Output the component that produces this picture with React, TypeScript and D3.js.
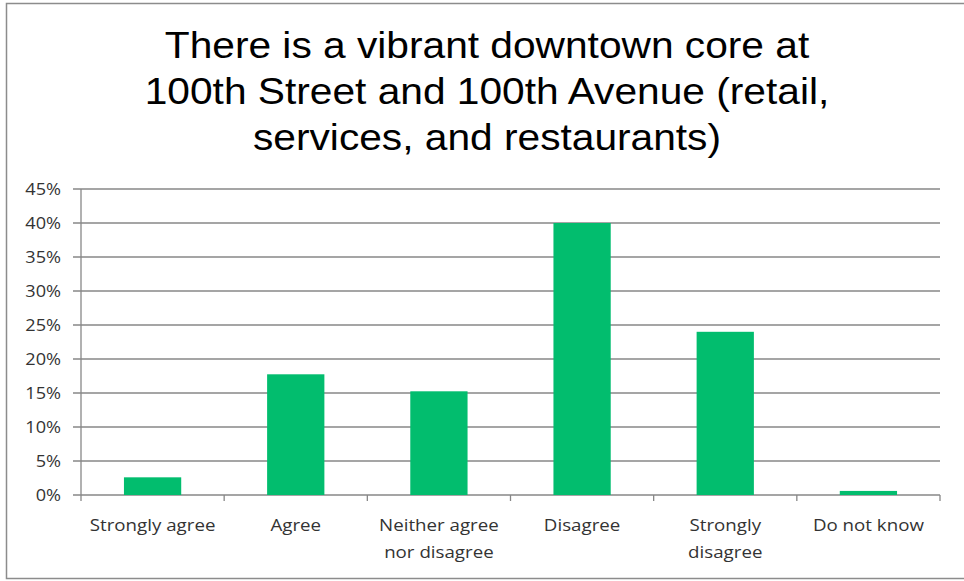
import React from "react";
import * as d3 from "d3";

const titleLines = [
  "There is a vibrant downtown core at",
  "100th Street and 100th Avenue (retail,",
  "services, and restaurants)",
];
const categories = [
  ["Strongly agree"],
  ["Agree"],
  ["Neither agree", "nor disagree"],
  ["Disagree"],
  ["Strongly", "disagree"],
  ["Do not know"],
];
const values = [0.026, 0.1775, 0.1525, 0.4, 0.24, 0.006];
const yTicks = [0, 0.05, 0.1, 0.15, 0.2, 0.25, 0.3, 0.35, 0.4, 0.45];

const W = 964;
const H = 581;
const left = 81;
const right = 940;
const top = 189;
const bottom = 495;

export default function App() {
  const keys = categories.map((c) => c.join(" "));
  const x = d3.scaleBand<string>().domain(keys).range([left, right]).paddingInner(0.6).paddingOuter(0.3);
  const xb = d3.scaleBand<string>().domain(keys).range([left, right]).padding(0);
  const y = d3.scaleLinear().domain([0, 0.45]).range([bottom, top]);
  const fmt = d3.format(".0%");
  const grid = "#878787";
  const labelFont = "'Open Sans', 'Noto Sans', sans-serif";
  const sx = 1.17;
  return (
    <svg
      width={W}
      height={H}
      style={{ position: "absolute", left: 0, top: 0, background: "#fff" }}
    >
      <rect x={6.5} y={3.5} width={W + 5} height={575} fill="#fff" stroke="#8c8c8c" strokeWidth={1.5} />
      {titleLines.map((t, i) => (
        <g key={i} transform={`translate(487,${58 + i * 46}) scale(1.1,1)`}>
          <text
            x={0}
            y={0}
            textAnchor="middle"
            fontFamily="'Liberation Sans', Arial, sans-serif"
            fontSize={37}
            fill="#000"
          >
            {t}
          </text>
        </g>
      ))}
      {yTicks.map((t) => (
        <g key={t}>
          <line x1={73} x2={right} y1={y(t)} y2={y(t)} stroke={grid} strokeWidth={1.3} />
          <g transform={`translate(61,${y(t)}) scale(${sx},1)`}>
            <text
              x={0}
              y={0}
              dy="0.36em"
              textAnchor="end"
              fontFamily={labelFont}
              fontSize={15.5}
              fill="#333"
            >
              {fmt(t)}
            </text>
          </g>
        </g>
      ))}
      <line x1={left} x2={left} y1={top} y2={bottom} stroke={grid} strokeWidth={1.3} />
      {keys.map((k, i) => (
        <rect key={k} x={x(k)} y={y(values[i])} width={x.bandwidth()} height={bottom - y(values[i])} fill="#02BD6E" />
      ))}
      {[...keys.map((k) => xb(k) as number), right].map((p, i) => (
        <line key={i} x1={p} x2={p} y1={bottom} y2={bottom + 6} stroke={grid} strokeWidth={1.3} />
      ))}
      {categories.map((c, i) => (
        <g key={i} transform={`translate(${(xb(keys[i]) as number) + xb.bandwidth() / 2},531) scale(${sx},1)`}>
          <text x={0} y={0} textAnchor="middle" fontFamily={labelFont} fontSize={16} fill="#333">
            {c.map((line, j) => (
              <tspan key={j} x={0} dy={j === 0 ? 0 : 27}>
                {line}
              </tspan>
            ))}
          </text>
        </g>
      ))}
    </svg>
  );
}
